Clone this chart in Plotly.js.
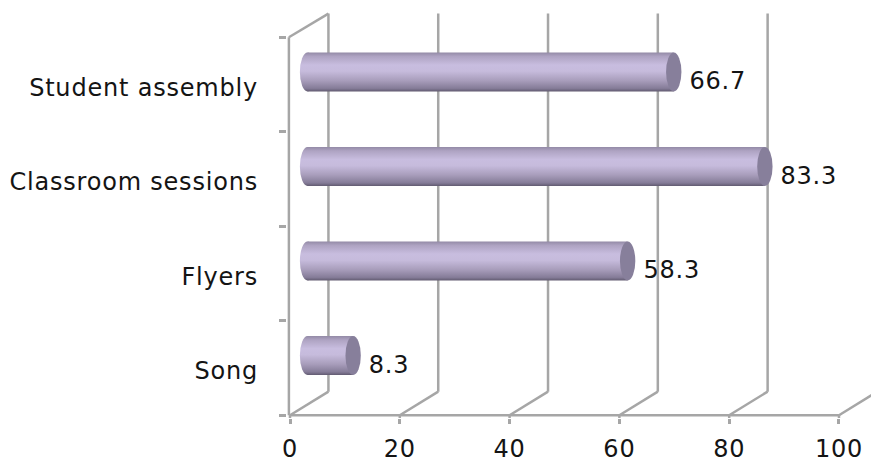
<!DOCTYPE html>
<html>
<head>
<meta charset="utf-8">
<script src="https://cdn.plot.ly/plotly-3.0.1.min.js"></script>
<style>
html,body{margin:0;padding:0;background:#fff;overflow:hidden}
.main-svg text{letter-spacing:.8px}
.ytick text{translate:0 3px}
</style>
</head>
<body>
<div id="chart" style="width:871px;height:464px"></div>
<script>
// Share of responses per awareness channel, bottom row first
const categories = ["Song", "Flyers", "Classroom sessions", "Student assembly"];
const values = [8.3, 58.3, 83.3, 66.7];
const tickValues = [0, 20, 40, 60, 80, 100];

// Pseudo-3D geometry, in axis units
const depthX = 7.0;      // back wall shift along x
const depthY = 0.25;     // back wall shift along y
const barBase = 3.2;     // cylinders sit midway into the depth
const barShift = 0.132;  // vertical lift of the cylinders
const barWidth = 0.413;
const capRadius = 1.4;
const yBottom = -0.5, yTop = 3.5;

const gridColor = "#a6a6a6";
const textColor = "#141414";
const font = {family: "DejaVu Sans, Verdana, sans-serif", size: 24, color: textColor};

const line = (x0, y0, x1, y1) => ({
  type: "line", xref: "x", yref: "y", x0, y0, x1, y1, layer: "below",
  line: {color: gridColor, width: 2.5}
});

const shapes = [];
// Back-wall gridlines and the floor diagonals leading to them
tickValues.forEach(v => {
  shapes.push(line(v + depthX, yBottom + depthY, v + depthX, yTop + depthY));
  shapes.push(line(v, yBottom, v + depthX, yBottom + depthY));
  shapes.push(line(v, yBottom, v, -0.53));
});
// Front axes and the top edge of the side wall
shapes.push(line(-0.2, yBottom, -0.2, yTop));
shapes.push(line(-0.2, yTop, depthX, yTop + depthY));
shapes.push(line(-0.2, yBottom, 100, yBottom));

// Rounded back end and darker front face of every cylinder
const backEnds = [], caps = [];
values.forEach((v, i) => {
  const y0 = i + barShift - barWidth / 2, y1 = i + barShift + barWidth / 2;
  backEnds.push(shapes.length);
  shapes.push({type: "circle", xref: "x", yref: "y", layer: "above",
    x0: barBase - capRadius, x1: barBase + capRadius, y0, y1,
    line: {width: 0}, fillcolor: "#b5a9cc"});
  caps.push(shapes.length);
  shapes.push({type: "circle", xref: "x", yref: "y", layer: "above",
    x0: v + barBase - capRadius, x1: v + barBase + capRadius, y0, y1,
    line: {width: 0}, fillcolor: "#877f9b"});
});

const annotations = values.map((v, i) => ({
  x: v + barBase, y: i, xref: "x", yref: "y",
  text: v.toFixed(1), showarrow: false,
  xanchor: "left", yanchor: "middle", xshift: 15, yshift: 3,
  font
}));

const trace = {
  type: "bar", orientation: "h",
  y: categories, x: values, base: barBase,
  width: barWidth, offset: barShift - barWidth / 2,
  marker: {color: "#b5a9cc", line: {width: 0}},
  hoverinfo: "skip"
};

const layout = {
  width: 871, height: 464,
  margin: {l: 287, r: 0, t: 10, b: 46, pad: 0},
  paper_bgcolor: "#fff", plot_bgcolor: "#fff",
  showlegend: false,
  xaxis: {
    range: [-0.546, 105.83], tickvals: tickValues, ticktext: tickValues.map(String),
    showgrid: false, zeroline: false, showline: false,
    ticks: "outside", ticklen: 5, tickwidth: 2.5, tickcolor: gridColor,
    tickfont: font, ticklabelstandoff: 4
  },
  yaxis: {
    type: "category", categoryorder: "array", categoryarray: categories,
    range: [-0.529, 3.788],
    showgrid: false, zeroline: false, showline: false,
    tickson: "boundaries", ticks: "outside", ticklen: 7, tickwidth: 2.5, tickcolor: gridColor,
    tickfont: font, ticklabelstandoff: 28
  },
  shapes, annotations
};

Plotly.newPlot("chart", [trace], layout, {displayModeBar: false}).then(gd => {
  // Cylinder shading: a vertical gradient shared by bodies and back ends
  const NS = "http://www.w3.org/2000/svg";
  const defs = gd.querySelector("svg.main-svg defs");
  const grad = document.createElementNS(NS, "linearGradient");
  grad.id = "cylinder";
  grad.setAttribute("x1", "0"); grad.setAttribute("y1", "0");
  grad.setAttribute("x2", "0"); grad.setAttribute("y2", "1");
  [[0, "#938aa6"], [0.1, "#aea3c2"], [0.32, "#c8bddf"], [0.48, "#c6bbdc"],
   [0.72, "#a89dbb"], [0.92, "#857c98"], [1, "#615a70"]].forEach(([o, c]) => {
    const s = document.createElementNS(NS, "stop");
    s.setAttribute("offset", o); s.setAttribute("stop-color", c);
    grad.appendChild(s);
  });
  defs.appendChild(grad);
  gd.querySelectorAll(".bars .point path").forEach(p => { p.style.fill = "url(#cylinder)"; });
  backEnds.forEach(i => {
    const p = gd.querySelector('.shapelayer path[data-index="' + i + '"]');
    if (p) p.style.fill = "url(#cylinder)";
  });
});
</script>
</body>
</html>
